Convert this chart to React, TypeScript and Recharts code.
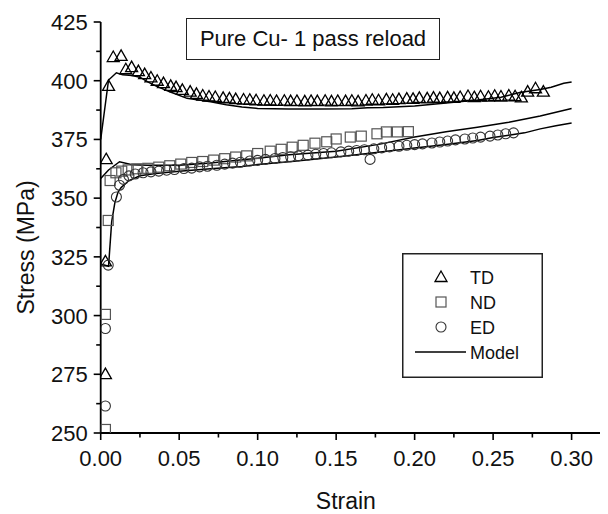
import React from 'react';
import { ScatterChart, Scatter, XAxis, YAxis } from 'recharts';

const FONT = '"Liberation Sans", Arial, Helvetica, sans-serif';

// TD (triangles)
const tdStrain = [0.003, 0.003, 0.0035, 0.005, 0.008, 0.013, 0.016, 0.0197, 0.024, 0.028, 0.032, 0.036, 0.040, 0.0446, 0.048, 0.052, 0.057, 0.061, 0.065, 0.069, 0.073, 0.078, 0.082, 0.086, 0.091, 0.095, 0.099, 0.104, 0.108, 0.112, 0.117, 0.121, 0.125, 0.130, 0.134, 0.138, 0.143, 0.147, 0.151, 0.156, 0.160, 0.164, 0.169, 0.173, 0.177, 0.182, 0.186, 0.190, 0.195, 0.199, 0.203, 0.208, 0.212, 0.216, 0.221, 0.225, 0.229, 0.234, 0.238, 0.242, 0.247, 0.251, 0.255, 0.260, 0.264, 0.268, 0.272, 0.277, 0.282];
const tdStress = [275, 323, 366.5, 397.7, 410, 410.5, 404.8, 405.7, 404, 402.7, 401.3, 399.9, 398.9, 397.7, 397.2, 396, 395.3, 394.3, 393.6, 393.2, 393.0, 392.6, 392.4, 392.1, 391.9, 391.8, 391.6, 391.4, 391.5, 391.3, 391.4, 391.2, 391.3, 391.1, 391.3, 391.2, 391.4, 391.1, 391.3, 391.2, 391.4, 391.1, 391.5, 391.8, 391.6, 392.0, 391.8, 392.1, 392.3, 392.2, 392.6, 392.4, 392.7, 392.5, 392.8, 392.6, 393.0, 393.4, 392.9, 393.3, 393.1, 393.5, 393.2, 393.6, 393.3, 392.8, 395.3, 396.7, 395.3];

// ND (squares)
const ndStrain = [0.003, 0.003, 0.0048, 0.006, 0.0097, 0.0134, 0.0175, 0.023, 0.030, 0.037, 0.044, 0.051, 0.058, 0.065, 0.072, 0.079, 0.086, 0.093, 0.100, 0.108, 0.115, 0.122, 0.129, 0.1365, 0.144, 0.150, 0.159, 0.166, 0.176, 0.182, 0.189, 0.196];
const ndStress = [251.5, 300.5, 340.5, 357.5, 360.8, 361.5, 362, 362.5, 362.7, 363.2, 363.8, 364.5, 365.2, 365.6, 366.2, 366.8, 367.5, 368.0, 369.0, 370.0, 370.8, 371.7, 372.5, 373.4, 374, 375.2, 376, 376.4, 377.4, 378.2, 378.2, 378.3];

// ED (circles)
const edStrain = [0.003, 0.003, 0.0048, 0.010, 0.012, 0.0145, 0.018, 0.022, 0.027, 0.032, 0.037, 0.042, 0.047, 0.053, 0.058, 0.063, 0.068, 0.074, 0.079, 0.084, 0.089, 0.095, 0.100, 0.105, 0.111, 0.116, 0.121, 0.126, 0.132, 0.137, 0.142, 0.147, 0.153, 0.158, 0.163, 0.1716, 0.168, 0.174, 0.179, 0.184, 0.190, 0.195, 0.200, 0.205, 0.211, 0.216, 0.221, 0.226, 0.232, 0.237, 0.242, 0.248, 0.253, 0.258, 0.263];
const edStress = [261.5, 294.5, 321.5, 350.5, 355.5, 358, 359.5, 360.3, 360.8, 361.2, 361.5, 361.9, 362.2, 362.6, 362.8, 363.3, 363.6, 364.0, 364.5, 364.9, 365.3, 365.8, 366.1, 366.5, 366.9, 367.3, 367.6, 368.0, 368.3, 368.7, 369.0, 369.3, 369.7, 370.0, 370.3, 366.5, 370.6, 371.0, 371.4, 371.8, 372.1, 372.5, 372.8, 373.1, 373.5, 373.9, 374.3, 374.8, 375.2, 375.6, 376.0, 376.4, 376.9, 377.4, 377.8];

// Model curves
const tdModelStrain = [0, 0.005, 0.010, 0.014, 0.020, 0.025, 0.030, 0.035, 0.044, 0.055, 0.070, 0.080, 0.090, 0.100, 0.120, 0.140, 0.160, 0.170, 0.180, 0.200, 0.220, 0.240, 0.255, 0.267, 0.280, 0.287, 0.295, 0.300];
const tdModelStress = [375, 400.3, 403.4, 402.5, 402.2, 401.5, 399.5, 397.8, 395.3, 392.5, 391, 389.8, 388.8, 388.2, 388, 388, 388.1, 388.5, 388.6, 389.2, 390.5, 391.8, 393, 395, 396.3, 397.2, 398.9, 399.5];

const ndModelStrain = [0, 0.005, 0.012, 0.020, 0.030, 0.050, 0.070, 0.090, 0.100, 0.120, 0.150, 0.178, 0.200, 0.220, 0.240, 0.260, 0.280, 0.300];
const ndModelStress = [358.4, 362, 365.5, 364.2, 364, 364, 365, 366.3, 367, 368.5, 370, 373, 376, 378.3, 380.2, 382.3, 385, 388.2];

const edModelStrain = [0, 0.005, 0.007, 0.009, 0.011, 0.013, 0.018, 0.025, 0.035, 0.050, 0.070, 0.090, 0.100, 0.120, 0.150, 0.170, 0.200, 0.220, 0.240, 0.250, 0.260, 0.270, 0.280, 0.290, 0.300];
const edModelStress = [322, 321, 340, 348, 352.5, 354.5, 357.5, 359.5, 360.5, 361.5, 362.5, 363.5, 364.3, 365.5, 367.5, 369, 371.3, 372.8, 374.5, 375.8, 376.8, 377.8, 379.5, 380.8, 382];

const xTicks = [0, 0.025, 0.05, 0.075, 0.1, 0.125, 0.15, 0.175, 0.2, 0.225, 0.25, 0.275, 0.3];
const yTicks = [250, 262.5, 275, 287.5, 300, 312.5, 325, 337.5, 350, 362.5, 375, 387.5, 400, 412.5, 425];

const zip = (xs: number[], ys: number[]) => xs.map((x, i) => ({ x, y: ys[i] }));
const tdData = zip(tdStrain, tdStress);
const ndData = zip(ndStrain, ndStress);
const edData = zip(edStrain, edStress);
const tdModel = zip(tdModelStrain, tdModelStress);
const ndModel = zip(ndModelStrain, ndModelStress);
const edModel = zip(edModelStrain, edModelStress);

const Triangle = (p: any) => {
  const { cx, cy } = p;
  if (cx == null || cy == null) return <g />;
  return <path d={`M${cx},${cy - 6.2} L${cx + 6},${cy + 4.3} L${cx - 6},${cy + 4.3} Z`} fill="none" stroke="#000" strokeWidth={1.3} />;
};
const Square = (p: any) => {
  const { cx, cy } = p;
  if (cx == null || cy == null) return <g />;
  return <rect x={cx - 5} y={cy - 5} width={10} height={10} fill="none" stroke="#555" strokeWidth={1.2} />;
};
const Circle = (p: any) => {
  const { cx, cy } = p;
  if (cx == null || cy == null) return <g />;
  return <circle cx={cx} cy={cy} r={5} fill="none" stroke="#333" strokeWidth={1.1} />;
};
const NoDot = () => <g />;

const XTick = (p: any) => {
  const { x, y, payload } = p;
  const v = payload.value;
  const major = Math.abs(v / 0.05 - Math.round(v / 0.05)) < 1e-6;
  return (
    <g>
      <line x1={x} x2={x} y1={y} y2={y + (major ? 7 : 4.5)} stroke="#000" strokeWidth={1.6} />
      {major && (
        <text x={x} y={y + 33} textAnchor="middle" fontSize={22} fontFamily={FONT} fill="#111">
          {v.toFixed(2)}
        </text>
      )}
    </g>
  );
};

const YTick = (p: any) => {
  const { x, y, payload } = p;
  const v = payload.value;
  const major = Math.abs(v / 25 - Math.round(v / 25)) < 1e-6;
  return (
    <g>
      <line x1={x} x2={x - (major ? 7 : 4.5)} y1={y} y2={y} stroke="#000" strokeWidth={1.6} />
      {major && (
        <text x={x - 13} y={y + 8} textAnchor="end" fontSize={22} fontFamily={FONT} fill="#111">
          {String(v)}
        </text>
      )}
    </g>
  );
};

const YLabel = (p: any) => {
  const vb = p.viewBox || { x: 0, y: 0, width: 0, height: 0 };
  const cx = vb.x + 26;
  const cy = vb.y + vb.height / 2 + 20;
  return (
    <text x={cx} y={cy} transform={`rotate(-90 ${cx} ${cy})`} textAnchor="middle" fontSize={23} fontFamily={FONT} fill="#111">
      Stress (MPa)
    </text>
  );
};

export default function App() {
  return (
    <div style={{ position: 'relative', width: 600, height: 506, fontFamily: FONT }}>
      <ScatterChart width={600} height={506} margin={{ top: 14, right: 5, bottom: 0, left: 0 }}>
        <XAxis
          type="number"
          dataKey="x"
          domain={[0, 0.32]}
          ticks={xTicks}
          interval={0}
          allowDataOverflow
          tickSize={0}
          tickMargin={0}
          tick={<XTick />}
          tickLine={false}
          axisLine={{ stroke: '#000', strokeWidth: 1.8 }}
          height={81}
          label={{ value: 'Strain', position: 'insideBottom', offset: 5, dx: -6, fontSize: 23, fontFamily: FONT, fill: '#111' }}
        />
        <YAxis
          type="number"
          dataKey="y"
          domain={[250, 425]}
          ticks={yTicks}
          interval={0}
          allowDataOverflow
          tickSize={0}
          tickMargin={0}
          tick={<YTick />}
          tickLine={false}
          axisLine={{ stroke: '#000', strokeWidth: 1.8 }}
          width={92.7}
          label={<YLabel />}
        />
        <Scatter data={tdModel} shape={<NoDot />} line={{ stroke: '#000', strokeWidth: 1.5 }} isAnimationActive={false} />
        <Scatter data={ndModel} shape={<NoDot />} line={{ stroke: '#000', strokeWidth: 1.5 }} isAnimationActive={false} />
        <Scatter data={edModel} shape={<NoDot />} line={{ stroke: '#000', strokeWidth: 1.5 }} isAnimationActive={false} />
        <Scatter data={tdData} shape={<Triangle />} isAnimationActive={false} />
        <Scatter data={ndData} shape={<Square />} isAnimationActive={false} />
        <Scatter data={edData} shape={<Circle />} isAnimationActive={false} />
      </ScatterChart>

      <div
        style={{
          position: 'absolute', left: 178, top: 10, width: 254, height: 42, boxSizing: 'border-box',
          border: '1.5px solid #222', background: '#fff', display: 'flex', alignItems: 'center', justifyContent: 'center',
          fontSize: 22, color: '#111', fontFamily: FONT, whiteSpace: 'nowrap',
        }}
      >
        Pure Cu- 1 pass reload
      </div>

      <svg style={{ position: 'absolute', left: 394, top: 245 }} width={141} height={125}>
        <rect x={0.75} y={0.75} width={139.5} height={123.5} fill="#fff" stroke="#222" strokeWidth={1.5} />
        <path d="M39,18 L45,28.5 L33,28.5 Z" fill="none" stroke="#000" strokeWidth={1.3} />
        <text x={68} y={30.5} fontSize={18} fontFamily={FONT} fill="#111">TD</text>
        <rect x={34} y={44} width={10} height={10} fill="none" stroke="#555" strokeWidth={1.2} />
        <text x={68} y={55.5} fontSize={18} fontFamily={FONT} fill="#111">ND</text>
        <circle cx={39} cy={74} r={5} fill="none" stroke="#333" strokeWidth={1.1} />
        <text x={68} y={80.5} fontSize={18} fontFamily={FONT} fill="#111">ED</text>
        <line x1={13} x2={64} y1={99} y2={99} stroke="#000" strokeWidth={1.5} />
        <text x={68} y={105.5} fontSize={18} fontFamily={FONT} fill="#111">Model</text>
      </svg>
    </div>
  );
}
